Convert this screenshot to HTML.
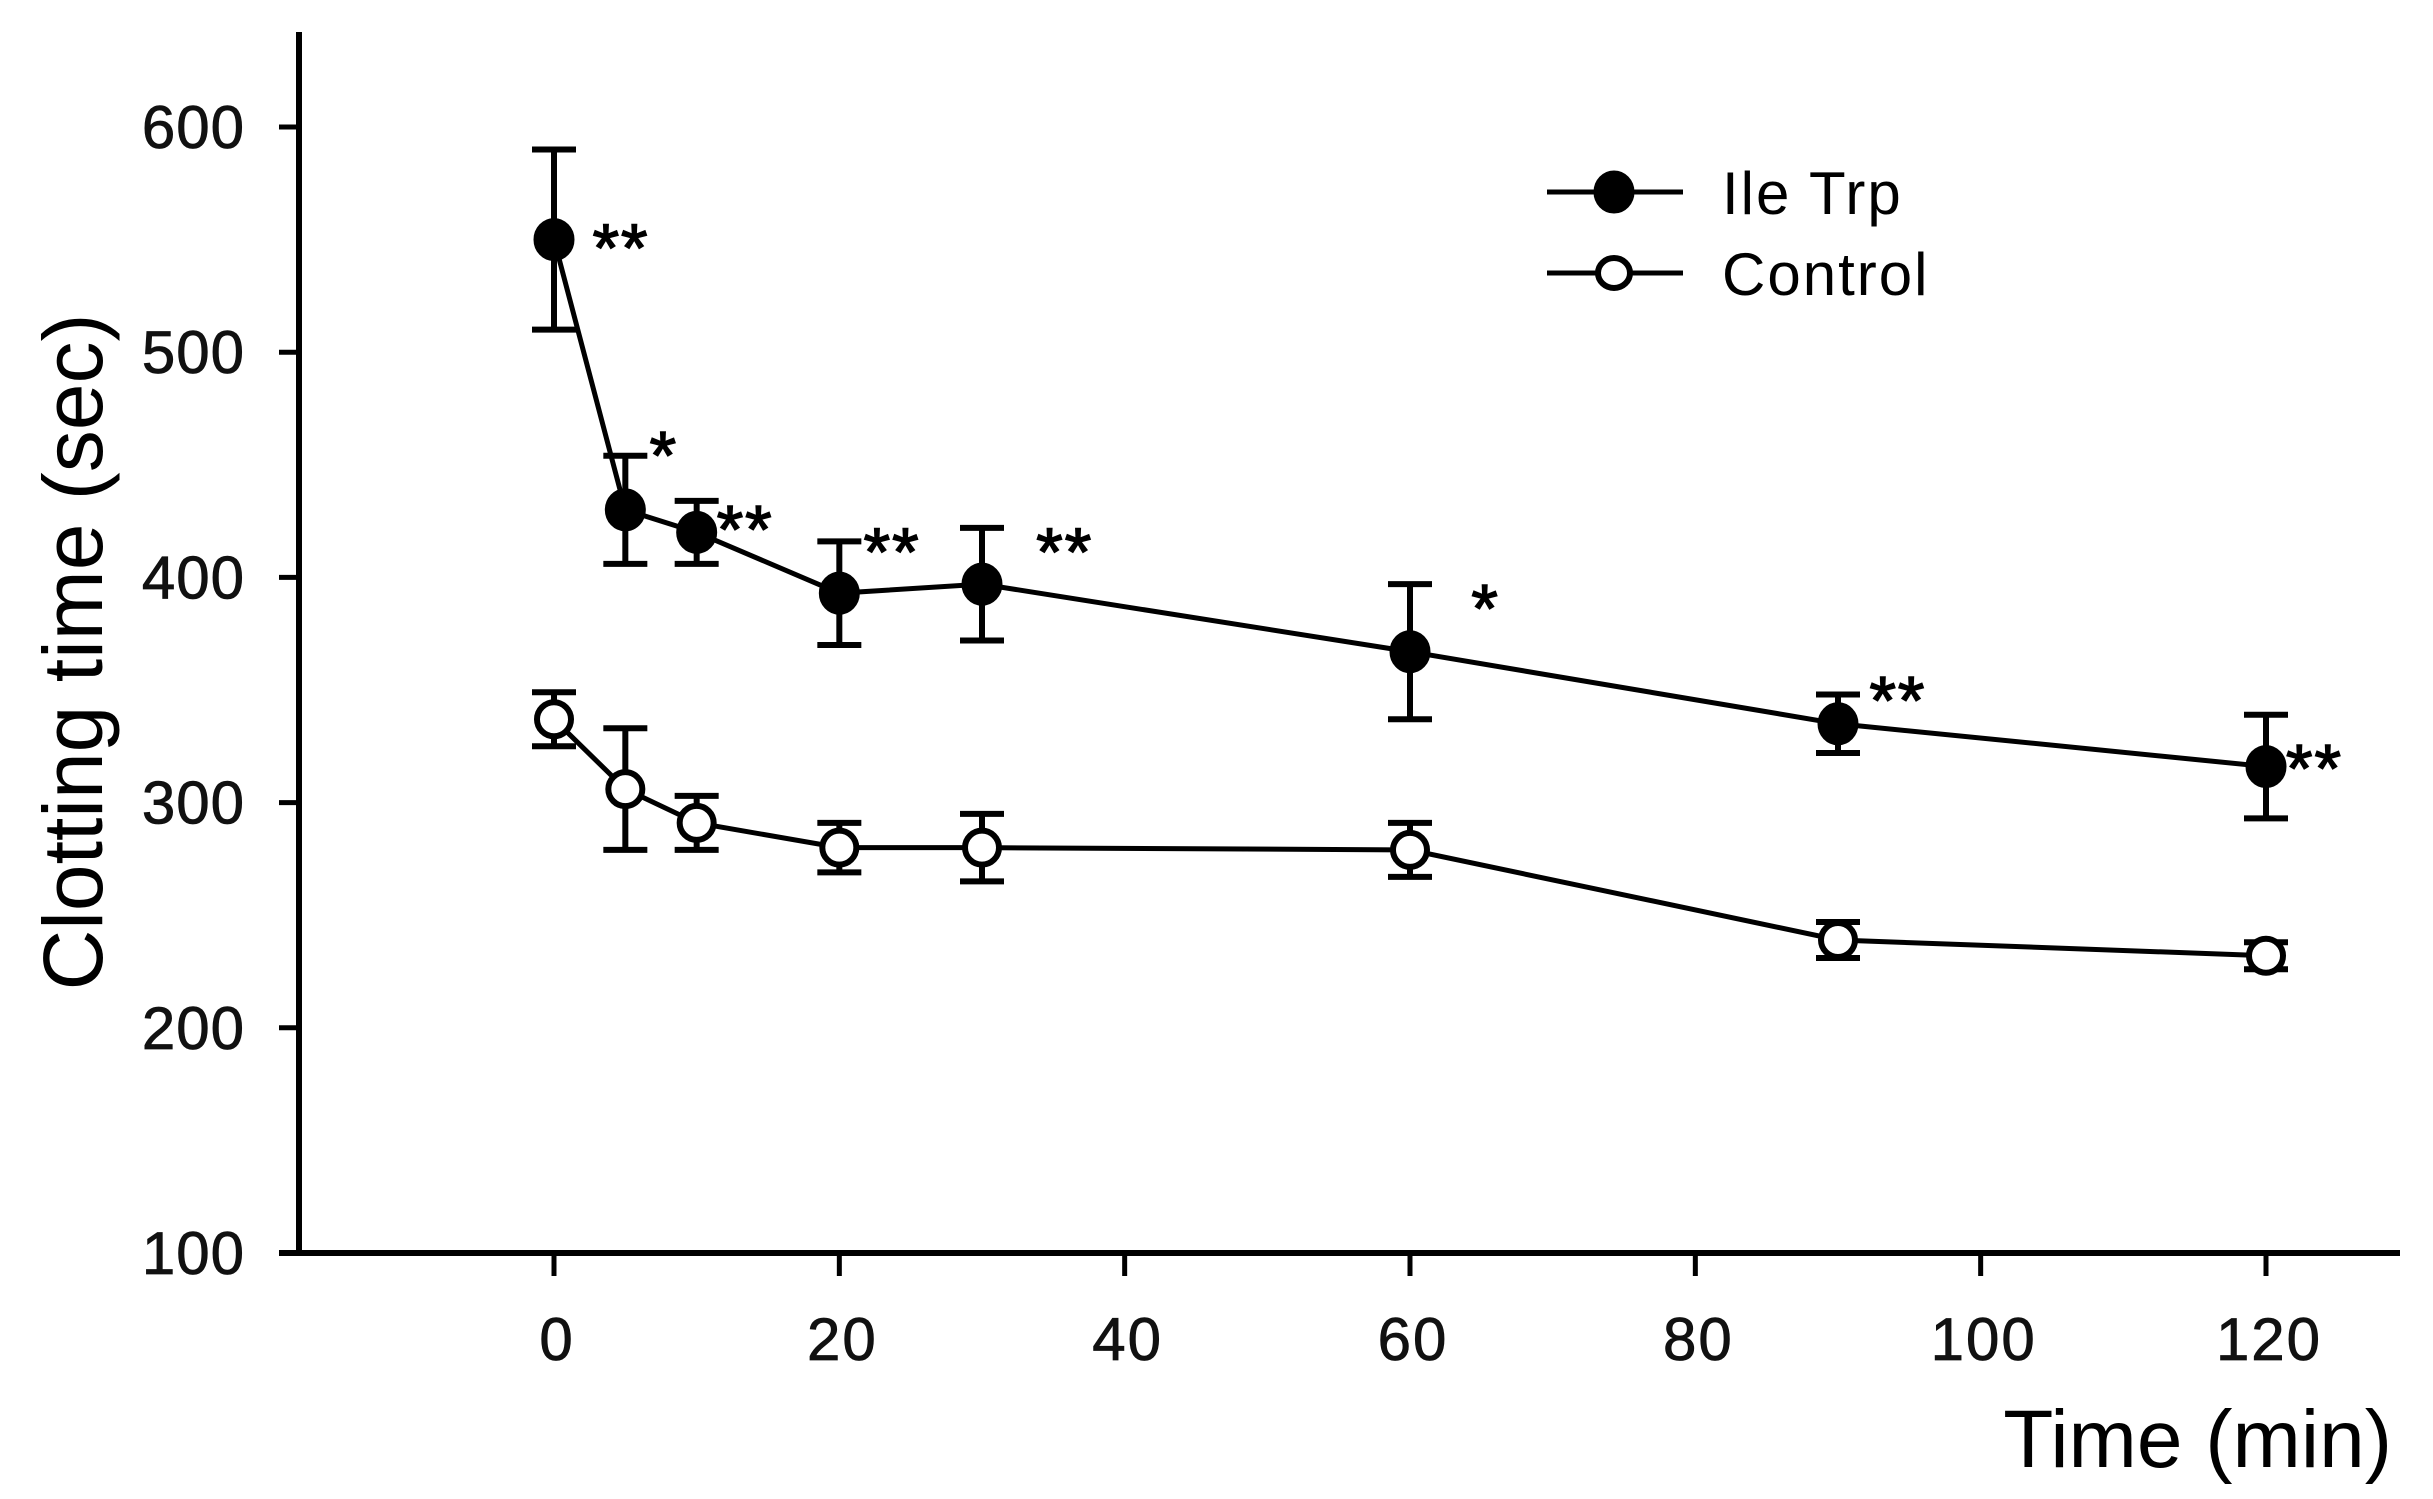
<!DOCTYPE html>
<html><head><meta charset="utf-8"><style>
html,body{margin:0;padding:0;background:#fff;}
svg{display:block;font-family:"Liberation Sans",Arial,sans-serif;}
</style></head><body>
<svg id="chart" width="2433" height="1499" viewBox="0 0 2433 1499" xmlns="http://www.w3.org/2000/svg"></svg>
<script>
const times = [0, 5, 10, 20, 30, 60, 90, 120];
const ileTrpMean = [550, 430, 420, 393, 397, 367, 335, 316];
const ileTrpErr = [40, 24, 14, 23, 25, 30, 13, 23];
const controlMean = [337, 306, 291, 280, 280, 279, 239, 232];
const controlErr = [12, 27, 12, 11, 15, 12, 8, 6];
const yTicks = [100, 200, 300, 400, 500, 600];
const xTicks = [0, 20, 40, 60, 80, 100, 120];
const starLabels = ["**", "*", "**", "**", "**", "*", "**", "**"];
const starX = [4.7, 7.7, 13.4, 23.7, 35.8, 65.3, 94.2, 123.4];
const starY = [552, 460, 427, 417, 417, 392, 351, 321];

const NS = "http://www.w3.org/2000/svg";
const svg = document.getElementById("chart");
const X0 = 554, X120 = 2266, Y100 = 1253, Y600 = 127;
function xs(v){ return X0 + (v/120)*(X120-X0); }
function ys(v){ return Y100 - (v-100)/500*(Y100-Y600); }
function mk(tag, attrs, parent){
  const e = document.createElementNS(NS, tag);
  for (const k in attrs) e.setAttribute(k, attrs[k]);
  (parent||svg).appendChild(e);
  return e;
}

const yAxis = mk("line",{x1:299,y1:32,x2:299,y2:Y100,stroke:"#000","stroke-width":6});


const xAxis = mk("line",{x1:279,y1:Y100,x2:2400,y2:Y100,stroke:"#000","stroke-width":6});



yTicks.forEach(t=>{
  const y = ys(t);
  const tk = mk("line",{x1:279,y1:y,x2:299,y2:y,stroke:"#000","stroke-width":5});
  
  
  const lb = mk("text",{x:245,y:y+21,"text-anchor":"end","font-size":60,"letter-spacing":1,fill:"#111",stroke:"#111","stroke-width":0.8});
  lb.textContent = t;
  
  
});
xTicks.forEach(t=>{
  const x = xs(t);
  const tk = mk("line",{x1:x,y1:Y100,x2:x,y2:Y100+23,stroke:"#000","stroke-width":5});
  
  
  const lb = mk("text",{x:x+3,y:Y100+107,"text-anchor":"middle","font-size":60,"letter-spacing":2,fill:"#111",stroke:"#111","stroke-width":0.8});
  lb.textContent = t;
  
  
});

const yTitle = mk("text",{x:0,y:0,"text-anchor":"middle","font-size":84,fill:"#000",transform:"translate(102,652) rotate(-90)"});
yTitle.textContent = "Clotting time (sec)";


const xTitle = mk("text",{x:2392,y:1467,"text-anchor":"end","font-size":82,fill:"#000"});
xTitle.textContent = "Time (min)";



function series(means, errs, filled, name){
  const g = mk("g",{});
  
  
  const pts = times.map((t,i)=>xs(t)+","+ys(means[i])).join(" ");
  const pl = mk("polyline",{points:pts,fill:"none",stroke:"#000","stroke-width":5},g);
  
  
  times.forEach((t,i)=>{
    const x = xs(t), yt = ys(means[i]+errs[i]), yb = ys(means[i]-errs[i]);
    const eb = mk("path",{d:`M${x},${yt}V${yb}M${x-22},${yt}H${x+22}M${x-22},${yb}H${x+22}`,stroke:"#000","stroke-width":6,fill:"none"},g);
    
    
    const c = mk("ellipse",{cx:x,cy:ys(means[i]),rx:filled?20:17,ry:filled?21:17,fill:filled?"#000":"#fff",stroke:"#000","stroke-width":filled?1:6},g);
    
    
  });
}
series(controlMean, controlErr, false, "control");
series(ileTrpMean, ileTrpErr, true, "ile-trp");

starLabels.forEach((s,i)=>{
  const st = mk("text",{x:xs(starX[i]),y:ys(starY[i])+36,"text-anchor":"middle","font-size":68,"letter-spacing":2,fill:"#000",stroke:"#000","stroke-width":1.5});
  st.textContent = s;
  
  
});

const lg = mk("g",{});


[["Ile Trp",192,true],["Control",273,false]].forEach(([lab,y,f])=>{
  const e = mk("g",{},lg);
  
  
  mk("line",{x1:1547,y1:y,x2:1683,y2:y,stroke:"#000","stroke-width":5},e);
  mk("ellipse",{cx:1614,cy:y,rx:f?20:16,ry:f?21:15,fill:f?"#000":"#fff",stroke:"#000","stroke-width":f?1:6},e);
  const t = mk("text",{x:1722,y:y+22,"font-size":60,"letter-spacing":2,fill:"#000"},e);
  t.textContent = lab;
});
</script>
</body></html>
